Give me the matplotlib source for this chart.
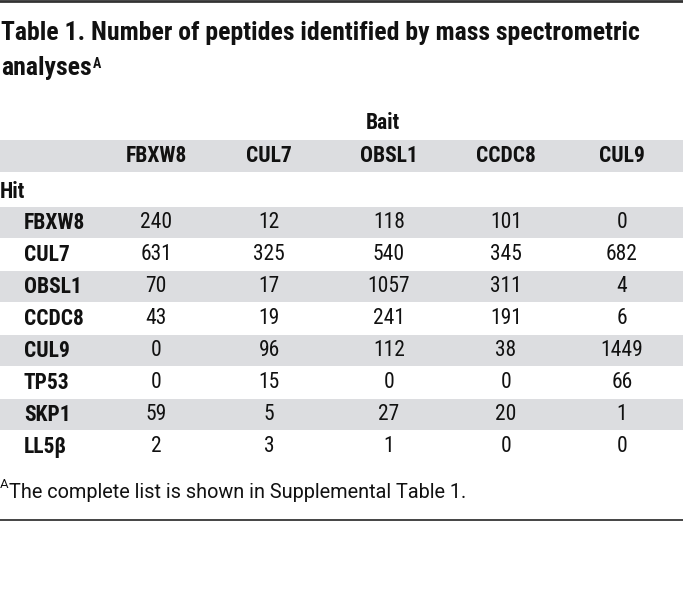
import matplotlib
matplotlib.use("Agg")
import matplotlib.pyplot as plt
from matplotlib.patches import Rectangle
from matplotlib import font_manager

title_line1 = "Table 1. Number of peptides identified by mass spectrometric"
title_line2 = "analyses"
title_sup = "A"
group_label = "Bait"
row_group_label = "Hit"
baits = ["FBXW8", "CUL7", "OBSL1", "CCDC8", "CUL9"]
hits = ["FBXW8", "CUL7", "OBSL1", "CCDC8", "CUL9", "TP53", "SKP1", "LL5β"]
col_fbxw8 = [240, 631, 70, 43, 0, 0, 59, 2]
col_cul7 = [12, 325, 17, 19, 96, 15, 5, 3]
col_obsl1 = [118, 540, 1057, 241, 112, 0, 27, 1]
col_ccdc8 = [101, 345, 311, 191, 38, 0, 20, 0]
col_cul9 = [0, 682, 4, 6, 1449, 66, 1, 0]
footnote_sup = "A"
footnote = "The complete list is shown in Supplemental Table 1."

columns = [col_fbxw8, col_cul7, col_obsl1, col_ccdc8, col_cul9]

installed = {f.name for f in font_manager.fontManager.ttflist}
if "Roboto Condensed" in installed:
    cfam = ["Roboto Condensed", "DejaVu Sans"]
    body = 15.5
    tsize = 18.5
else:
    cfam = ["Roboto", "DejaVu Sans"]
    body = 13.5
    tsize = 16.5
fam = ["Roboto", "DejaVu Sans"]

W, H = 683, 615
fig = plt.figure(figsize=(W / 100, H / 100), dpi=100)
ax = fig.add_axes([0, 0, 1, 1])
ax.set_xlim(0, W)
ax.set_ylim(H, 0)
ax.axis("off")

band = "#dcdde0"
ink = "#111111"

# rules
ax.axhline(1.2, color="#333333", lw=2.0)
ax.axhline(520, color="#444444", lw=1.4)

# title
ax.text(1, 33, title_line1, fontsize=tsize, fontweight="bold", family=cfam,
        va="center", ha="left", color=ink)
t2 = ax.text(1, 68, title_line2, fontsize=tsize, fontweight="bold", family=cfam,
             va="center", ha="left", color=ink)
ax.annotate(title_sup, xy=(1.0, 0.95), xycoords=t2, xytext=(0.8, 0),
            textcoords="offset points", fontsize=10, fontweight="bold",
            family=cfam, va="top", ha="left", color=ink)

col_x = [156, 269, 389, 506, 622]
ax.text(383, 123, group_label, fontsize=body, fontweight="bold", family=cfam,
        va="center", ha="center", color=ink)

# header band
ax.add_patch(Rectangle((0, 140), W, 32, color=band, lw=0))
for x, b in zip(col_x, baits):
    ax.text(x, 156.5, b, fontsize=body, fontweight="bold", family=cfam,
            va="center", ha="center", color=ink)

ax.text(0, 192, row_group_label, fontsize=body, fontweight="bold", family=cfam,
        va="center", ha="left", color=ink)

row0 = 223
dy = 32
for i, h in enumerate(hits):
    y = row0 + i * dy
    if i % 2 == 0:
        ax.add_patch(Rectangle((0, y - 16), W, 31, color=band, lw=0))
    ax.text(24, y, h, fontsize=body, fontweight="bold", family=cfam,
            va="center", ha="left", color=ink)
    for x, col in zip(col_x, columns):
        ax.text(x, y, str(col[i]), fontsize=body, family=cfam,
                va="center", ha="center", color=ink)

# footnote
fa = ax.text(0, 484, footnote_sup, fontsize=9.5, family=fam, va="center",
             ha="left", color=ink)
ax.annotate(footnote, xy=(1.0, 0.5), xycoords=fa, xytext=(0, -6),
            textcoords="offset points", fontsize=14.3, family=fam,
            va="center", ha="left", color=ink)

fig.savefig("out.png", dpi=100, facecolor="white")
